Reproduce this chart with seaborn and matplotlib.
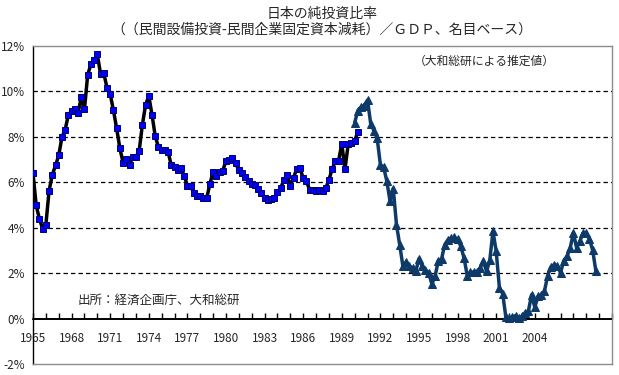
import matplotlib
matplotlib.use("Agg")
import matplotlib.pyplot as plt
import numpy as np
import seaborn as sns

# 四半期データ（1965年Q1から）
start_year = 1965
end_year = 2010

# 実績値（青い四角、1965Q1〜1990Q2）
actual_values = [
    6.40, 4.98, 4.38, 3.96, 4.13, 5.63, 6.33, 6.74, 7.18, 7.99,
    8.32, 8.97, 9.14, 9.22, 9.04, 9.74, 9.22, 10.73, 11.19, 11.38,
    11.63, 10.77, 10.80, 10.17, 9.89, 9.17, 8.38, 7.50, 6.87, 7.02,
    6.77, 7.11, 7.11, 7.38, 8.53, 9.41, 9.80, 8.97, 8.03, 7.55,
    7.43, 7.43, 7.34, 6.74, 6.67, 6.52, 6.62, 6.29, 5.85, 5.85,
    5.52, 5.41, 5.38, 5.30, 5.30, 5.93, 6.46, 6.26, 6.46, 6.51,
    6.95, 6.99, 7.08, 6.84, 6.52, 6.43, 6.23, 6.04, 5.93, 5.89,
    5.71, 5.52, 5.30, 5.23, 5.26, 5.32, 5.57, 5.74, 6.11, 6.33,
    5.82, 6.21, 6.59, 6.62, 6.18, 6.04, 5.67, 5.67, 5.60, 5.67,
    5.63, 5.74, 6.11, 6.58, 6.95, 6.95, 7.69, 6.58, 7.69, 7.75,
    7.82, 8.23,
]

# 推定値（紺の三角、1990Q1〜2008Q4）
estimate_start_q = 100
estimate_values = [
    8.62, 9.16, 9.32, 9.38, 9.62, 8.56, 8.27, 7.93, 6.77, 6.67,
    6.05, 5.16, 5.72, 4.13, 3.25, 2.30, 2.50, 2.30, 2.23, 2.08,
    2.64, 2.30, 2.15, 2.01, 1.52, 1.86, 2.55, 2.62, 3.25, 3.47,
    3.55, 3.57, 3.50, 3.18, 2.67, 1.89, 2.04, 2.05, 2.05, 2.23,
    2.52, 2.08, 2.56, 3.84, 2.96, 1.35, 1.10, 0.07, 0.01, 0.06,
    0.13, 0.03, 0.10, 0.25, 0.32, 1.05, 0.50, 0.98, 1.05, 1.20,
    1.89, 2.27, 2.37, 2.33, 2.01, 2.55, 2.74, 3.11, 3.77, 3.11,
    3.40, 3.77, 3.77, 3.50, 3.00, 2.08,
]

year_labels = [str(y) for y in range(1965, 2005, 3)]
y_ticks = [-2, 0, 2, 4, 6, 8, 10, 12]

sns.set_theme(style="white")
plt.rcParams["font.family"] = ["Noto Sans CJK JP", "DejaVu Sans"]
plt.rcParams["axes.unicode_minus"] = False

fig = plt.figure(figsize=(6.19, 3.75), dpi=100)
ax = fig.add_axes([33 / 619, 1 - 364 / 375, 579 / 619, 318 / 375])

x_actual = np.arange(len(actual_values))
x_est = np.arange(len(estimate_values)) + estimate_start_q

# 点線のグリッド
for v in y_ticks[2:-1]:
    ax.axhline(v, color="black", lw=0.9, ls=(0, (3.5, 2.5)), zorder=1)
ax.axhline(0, color="black", lw=1.2, zorder=2)

sns.lineplot(x=x_actual, y=actual_values, ax=ax, color="black", lw=2.5,
             marker="s", markersize=4.5, markerfacecolor="#0000FF",
             markeredgecolor="#000066", markeredgewidth=0.7, zorder=3)
sns.lineplot(x=x_est, y=estimate_values, ax=ax, color="#0D3A68", lw=2.5,
             marker="^", markersize=6, markerfacecolor="#0D3A68",
             markeredgecolor="#0D3A68", zorder=4)

n_q = (end_year - start_year) * 4
ax.set_xlim(0, n_q)
ax.set_ylim(-2, 12)
ax.set_yticks(y_ticks)
ax.set_yticklabels([f"{v}%" for v in y_ticks], fontsize=8.5)
ax.tick_params(axis="y", length=0, pad=6)
ax.tick_params(axis="x", bottom=False, labelbottom=False)
ax.set_xlabel("")
ax.set_ylabel("")

for name in ["top", "right", "bottom"]:
    ax.spines[name].set_color("#8c8c8c")
    ax.spines[name].set_linewidth(1.0)
ax.spines["left"].set_color("black")
ax.spines["left"].set_linewidth(1.0)

# 0%の位置に目盛り付きのX軸
sec = ax.secondary_xaxis(2 / 14)
tick_pos = np.arange(0, n_q + 1, 4)
sec.set_xticks(tick_pos)
labels = []
for i, p in enumerate(tick_pos):
    labels.append(year_labels[i // 3] if i % 3 == 0 and i // 3 < len(year_labels) else "")
sec.set_xticklabels(labels, fontsize=8.5)
sec.tick_params(axis="x", direction="in", length=4, width=1, color="black", pad=10)
sec.spines["bottom"].set_color("black")

fig.text(322 / 619, 1 - 14 / 375, "日本の純投資比率", ha="center", va="center", fontsize=10)
fig.text(322 / 619, 1 - 30 / 375, "（（民間設備投資-民間企業固定資本減耗）／ＧＤＰ、名目ベース）",
         ha="center", va="center", fontsize=10)
fig.text(484 / 619, 1 - 61 / 375, "（大和総研による推定値）", ha="center", va="center", fontsize=8.5)
fig.text(78 / 619, 1 - 300 / 375, "出所：経済企画庁、大和総研", ha="left", va="center", fontsize=9)

fig.savefig("out.png", dpi=100)
